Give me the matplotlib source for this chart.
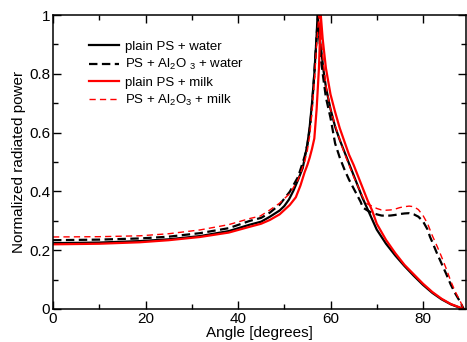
import matplotlib
matplotlib.use("Agg")
import matplotlib.pyplot as plt
from matplotlib.ticker import MultipleLocator

plt.rcParams['font.family'] = ['Liberation Sans', 'DejaVu Sans']
plt.rcParams['mathtext.default'] = 'regular'

# plain PS + water (black solid)
bs_x = [0, 10, 18.8, 25, 31.8, 38, 42.6, 45, 46.9, 49, 50, 51, 52, 53, 54, 54.5, 55, 55.5, 56, 56.5, 57, 57.2,
        57.6, 58, 58.5, 59, 60, 61, 62, 63, 64, 65, 66, 67, 68, 69, 70, 72, 74, 76, 78, 80, 82, 84, 86, 88, 88.8]
bs_y = [0.224, 0.226, 0.231, 0.237, 0.248, 0.265, 0.287, 0.297, 0.314, 0.335, 0.350, 0.372, 0.403, 0.440, 0.480, 0.520, 0.560, 0.620, 0.700, 0.800, 0.930, 1.0,
        0.93, 0.88, 0.81, 0.755, 0.68, 0.62, 0.575, 0.535, 0.495, 0.455, 0.415, 0.375, 0.340, 0.305, 0.270, 0.222, 0.182, 0.146, 0.113, 0.082, 0.055, 0.033, 0.016, 0.004, 0.0]

# PS + Al2O3 + water (black dashed)
bd_x = [0, 10, 18.8, 25, 31.8, 38, 42.6, 45, 46.9, 49, 51.2, 53, 54.4, 55, 55.5, 56, 56.5, 57, 57.3,
        57.6, 58, 58.4, 59, 60, 61, 62, 63, 64, 65, 66, 66.5, 67, 68, 69, 70, 71, 72, 73, 74, 75, 76, 77, 78, 79, 80,
        81, 81.5, 82, 83, 84, 85, 86, 87, 88, 88.8]
bd_y = [0.234, 0.236, 0.240, 0.246, 0.258, 0.275, 0.300, 0.310, 0.328, 0.355, 0.399, 0.450, 0.518, 0.560, 0.610, 0.690, 0.800, 0.930, 1.0,
        0.92, 0.84, 0.79, 0.72, 0.65, 0.563, 0.515, 0.475, 0.440, 0.410, 0.380, 0.365, 0.345, 0.335, 0.327, 0.322, 0.318, 0.317, 0.318, 0.320, 0.323, 0.325, 0.326, 0.322, 0.314, 0.298,
        0.270, 0.246, 0.228, 0.190, 0.155, 0.120, 0.083, 0.052, 0.025, 0.0]

# plain PS + milk (red solid)
rs_x = [0, 10, 18.8, 25, 31.8, 38, 42.6, 45, 46.9, 49, 51.2, 52.5, 53.5, 54.4, 55, 55.5, 56, 56.5, 57, 57.5, 57.9,
        58.3, 59, 60, 61, 62, 63, 64, 65, 66, 67, 68, 69, 70, 72, 74, 76, 78, 80, 82, 84, 86, 88, 88.8]
rs_y = [0.220, 0.222, 0.227, 0.234, 0.245, 0.260, 0.280, 0.290, 0.303, 0.322, 0.354, 0.380, 0.420, 0.465, 0.490, 0.515, 0.545, 0.580, 0.680, 0.820, 1.0,
        0.92, 0.82, 0.73, 0.67, 0.615, 0.570, 0.525, 0.490, 0.450, 0.410, 0.370, 0.335, 0.290, 0.235, 0.190, 0.150, 0.118, 0.086, 0.058, 0.035, 0.017, 0.005, 0.0]

# PS + Al2O3 + milk (red dashed)
rd_x = [0, 10, 18.8, 25, 31.8, 38, 42.6, 44.8, 46.9, 49, 51.2, 53, 54.4, 55, 55.5, 56, 56.5, 57, 57.5,
        58, 58.5, 59, 60, 61, 62, 63, 64, 65, 66, 67, 67.5, 68, 69, 70, 71, 72, 73, 74, 75, 76, 77, 78, 79, 80,
        81, 82, 83, 84, 85, 86, 87, 88, 88.8]
rd_y = [0.245, 0.246, 0.249, 0.256, 0.269, 0.287, 0.308, 0.316, 0.337, 0.360, 0.393, 0.440, 0.500, 0.540, 0.590, 0.670, 0.770, 0.900, 1.0,
        0.92, 0.83, 0.76, 0.68, 0.625, 0.575, 0.530, 0.490, 0.450, 0.415, 0.380, 0.365, 0.357, 0.350, 0.342, 0.337, 0.336, 0.337, 0.340, 0.345, 0.348, 0.350, 0.348, 0.338, 0.318,
        0.290, 0.250, 0.215, 0.178, 0.138, 0.095, 0.058, 0.028, 0.0]

labels = ['plain PS + water', 'PS + Al$_2$O $_3$ + water', 'plain PS + milk', 'PS + Al$_2$O$_3$ + milk']

fig = plt.figure(figsize=(4.67, 3.42), dpi=100)
ax = fig.add_axes([0.1135, 0.0965, 0.8854, 0.8596])

ax.plot(bs_x, bs_y, color='black', lw=1.6, label=labels[0])
ax.plot(bd_x, bd_y, color='black', lw=1.6, dashes=(3.8, 2.0), label=labels[1])
ax.plot(rs_x, rs_y, color='red', lw=1.6, label=labels[2])
ax.plot(rd_x, rd_y, color='red', lw=1.0, dashes=(4.5, 3.0), label=labels[3])

ax.set_xlim(0, 89.4)
ax.set_ylim(0, 1)
ax.xaxis.set_major_locator(MultipleLocator(20))
ax.xaxis.set_minor_locator(MultipleLocator(10))
ax.yaxis.set_major_locator(MultipleLocator(0.2))
ax.yaxis.set_minor_locator(MultipleLocator(0.1))
ax.set_yticks([0, 0.2, 0.4, 0.6, 0.8, 1.0])
ax.set_yticklabels(['0', '0.2', '0.4', '0.6', '0.8', '1'])
ax.tick_params(which='both', direction='in', top=True, right=True, labelsize=11, pad=2, width=1.0)
ax.tick_params(which='major', length=6)
ax.tick_params(which='minor', length=3.5)
for s in ax.spines.values():
    s.set_linewidth(1.1)

ax.set_xlabel('Angle [degrees]', fontsize=11, labelpad=0)
ax.set_ylabel('Normalized radiated power', fontsize=11, labelpad=2)

ax.legend(loc='upper left', bbox_to_anchor=(0.07, 0.935), frameon=False, fontsize=9.5,
          handlelength=2.3, handletextpad=0.5, labelspacing=0.32, borderpad=0)

fig.savefig('out.png', dpi=100)
